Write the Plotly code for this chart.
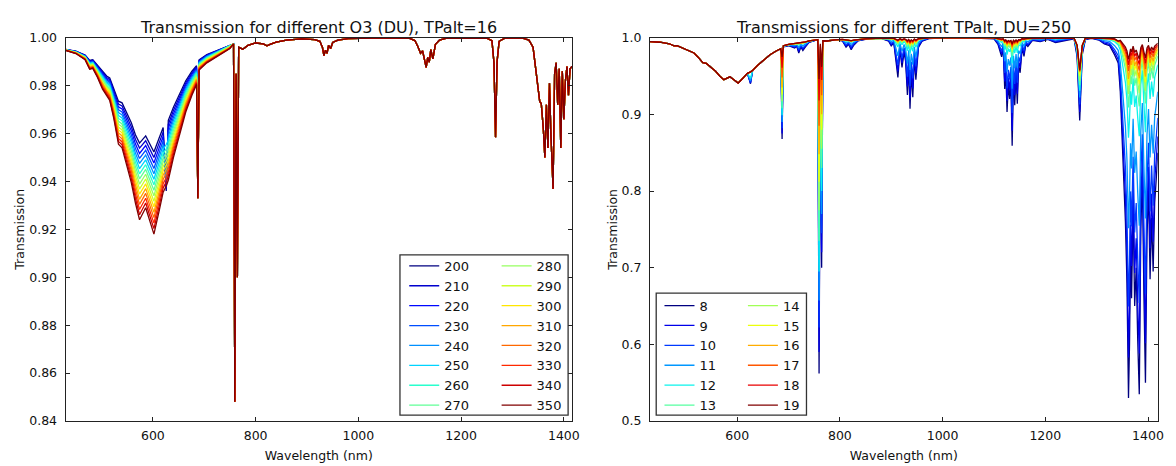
import plotly.graph_objects as go

# ======================= LEFT PANEL DATA =======================
du_levels = [200, 210, 220, 230, 240, 250, 260, 270, 280, 290, 300, 310, 320, 330, 340, 350]

# Chappuis-band region: one column per wavelength, values for DU = 200 ... 350
l_band_wl = [430, 450, 468, 477, 483, 492, 502, 510, 516, 524, 533, 540, 548, 558, 566,
             574, 586, 602, 612, 620, 626, 630, 640, 652, 664, 676, 685, 687.5, 690, 705, 725, 750]
l_band_cols_a = [
    [.9951, .9951, .9950, .9950, .9950, .9950, .9949, .9949, .9949, .9949, .9948, .9948, .9948, .9948, .9947, .9947],
    [.9944, .9943, .9943, .9942, .9941, .9941, .9940, .9939, .9939, .9938, .9937, .9937, .9936, .9935, .9935, .9934],
    [.9928, .9927, .9925, .9924, .9923, .9921, .9920, .9919, .9917, .9916, .9915, .9913, .9912, .9911, .9909, .9908],
    [.9905, .9903, .9900, .9898, .9895, .9893, .9890, .9888, .9885, .9883, .9880, .9878, .9875, .9873, .9870, .9868],
    [.9908, .9906, .9903, .9901, .9898, .9896, .9894, .9891, .9889, .9886, .9884, .9882, .9879, .9877, .9874, .9872],
    [.9885, .9882, .9878, .9875, .9872, .9868, .9865, .9862, .9858, .9855, .9852, .9848, .9845, .9842, .9838, .9835],
    [.9858, .9853, .9848, .9843, .9839, .9834, .9829, .9824, .9819, .9814, .9809, .9804, .9800, .9795, .9790, .9785],
    [.9840, .9834, .9829, .9823, .9817, .9812, .9806, .9800, .9795, .9789, .9783, .9778, .9772, .9766, .9761, .9755],
    [.9832, .9826, .9819, .9813, .9807, .9801, .9794, .9788, .9782, .9776, .9769, .9763, .9757, .9750, .9744, .9738],
    [.9788, .9780, .9771, .9763, .9754, .9746, .9738, .9729, .9721, .9712, .9704, .9696, .9687, .9679, .9670, .9662],
    [.9735, .9723, .9711, .9699, .9687, .9675, .9663, .9651, .9639, .9627, .9615, .9603, .9591, .9579, .9567, .9555],
    [.9728, .9715, .9703, .9690, .9678, .9665, .9653, .9640, .9628, .9615, .9603, .9590, .9578, .9565, .9553, .9540],
    [.9690, .9676, .9661, .9647, .9633, .9618, .9604, .9590, .9575, .9561, .9547, .9532, .9518, .9504, .9489, .9475],
    [.9645, .9628, .9612, .9595, .9578, .9562, .9545, .9528, .9512, .9495, .9478, .9462, .9445, .9428, .9412, .9395],
    [.9595, .9576, .9557, .9538, .9519, .9500, .9481, .9462, .9443, .9424, .9405, .9386, .9367, .9348, .9329, .9310],
]
l_band_cols_b = [
    [.9560, .9539, .9517, .9496, .9475, .9453, .9432, .9411, .9389, .9368, .9347, .9325, .9304, .9283, .9261, .9240],
    [.9590, .9570, .9550, .9530, .9510, .9490, .9470, .9450, .9430, .9410, .9390, .9370, .9350, .9330, .9310, .9290],
    [.9523, .9500, .9477, .9454, .9432, .9409, .9386, .9363, .9340, .9317, .9294, .9271, .9249, .9226, .9203, .9180],
    [.9580, .9560, .9539, .9519, .9499, .9478, .9458, .9438, .9417, .9397, .9377, .9356, .9336, .9316, .9295, .9275],
    [.9625, .9607, .9589, .9571, .9553, .9535, .9517, .9499, .9481, .9463, .9445, .9427, .9409, .9391, .9373, .9355],
    [.9360, .9370, .9380, .9390, .9400, .9554, .9536, .9519, .9502, .9484, .9467, .9450, .9432, .9415, .9398, .9381],
    [.9655, .9638, .9622, .9605, .9588, .9572, .9555, .9538, .9522, .9505, .9488, .9472, .9455, .9438, .9422, .9405],
    [.9710, .9696, .9682, .9668, .9654, .9640, .9626, .9612, .9598, .9584, .9570, .9556, .9542, .9528, .9514, .9500],
    [.9765, .9754, .9743, .9732, .9721, .9710, .9699, .9688, .9677, .9666, .9655, .9644, .9633, .9622, .9611, .9600],
    [.9820, .9811, .9803, .9794, .9785, .9777, .9768, .9759, .9751, .9742, .9733, .9725, .9716, .9707, .9699, .9690],
    [.9860, .9853, .9847, .9840, .9833, .9827, .9820, .9813, .9807, .9800, .9793, .9787, .9780, .9773, .9767, .9760],
    [.9883, .9878, .9873, .9867, .9862, .9857, .9852, .9847, .9841, .9836, .9831, .9826, .9821, .9815, .9810, .9805],
    0.9330,
    [.9908, .9905, .9902, .9899, .9897, .9894, .9891, .9888, .9885, .9882, .9879, .9876, .9874, .9871, .9868, .9865],
    [.9930, .9928, .9925, .9923, .9921, .9918, .9916, .9914, .9911, .9909, .9907, .9904, .9902, .9900, .9897, .9895],
    [.9948, .9946, .9945, .9943, .9941, .9939, .9938, .9936, .9934, .9932, .9931, .9929, .9927, .9925, .9924, .9922],
    [.9970, .9969, .9968, .9967, .9966, .9965, .9964, .9963, .9962, .9961, .9960, .9959, .9958, .9957, .9956, .9955],
]
# beyond 755 nm all DU curves coincide
l_tail_wl = [757, 759.5, 762, 764.5, 767, 775, 785, 800, 815, 822, 828, 840, 860, 890, 915, 925, 930,
             933, 936, 939, 942, 946, 950, 960, 980, 1050, 1100, 1110, 1116, 1121, 1125, 1128, 1132,
             1135, 1138, 1141, 1145, 1150, 1158, 1170, 1250, 1260, 1264, 1267, 1270, 1274, 1285,
             1320, 1332, 1340, 1346, 1350, 1353, 1356, 1360, 1363, 1366, 1369, 1372, 1375, 1379,
             1382, 1385, 1388, 1391, 1394, 1397, 1400, 1403, 1406, 1409, 1412, 1416]
l_tail_T = [0.9974, 0.848, 0.985, 0.900, 0.9960, 0.9952, 0.9968, 0.9978, 0.9974, 0.9966, 0.9972,
            0.9982, 0.9990, 0.9995, 0.9992, 0.9985, 0.9960, 0.9925, 0.9948, 0.9935, 0.9968, 0.9955,
            0.9980, 0.9990, 0.9996, 0.9999, 0.9997, 0.9988, 0.9962, 0.9935, 0.9945, 0.9910, 0.9876,
            0.9918, 0.9898, 0.9950, 0.9912, 0.9972, 0.9990, 0.9997, 0.9998, 0.9988, 0.9895, 0.9585,
            0.9900, 0.9985, 0.9998, 0.9998, 0.9990, 0.9960, 0.9855, 0.9790, 0.9734, 0.9725, 0.9620,
            0.9500, 0.9720, 0.9540, 0.9810, 0.9585, 0.9369, 0.9850, 0.9895, 0.9720, 0.9870, 0.9540,
            0.9860, 0.9660, 0.9820, 0.9880, 0.9760, 0.9870, 0.9880]

# ======================= RIGHT PANEL DATA =======================
tp_levels = [8, 9, 10, 11, 12, 13, 14, 15, 16, 17, 18, 19]

# ozone band (DU=250), common to every TPalt
r_o3a_wl = [430, 450, 468, 477, 483, 492, 502, 510, 516, 524, 533, 540, 548, 558, 566, 574, 586, 602, 612, 620]
r_o3a_T = [.9950, .9941, .9921, .9893, .9896, .9868, .9834, .9812, .9801, .9746, .9675, .9665, .9618,
           .9562, .9500, .9453, .9490, .9409, .9478, .9535]
r_spike_wl = [626]
r_spike_cols = [[0.940, 0.941, 0.942, 0.944, 0.947, 0.9554, 0.9554, 0.9554, 0.9554, 0.9554, 0.9554, 0.9554]]
r_o3b_wl = [630, 640, 652, 664, 676, 685]
r_o3b_T = [.9572, .9640, .9710, .9777, .9827, .9857]

# per-wavelength columns, values for TPalt = 8 ... 19
r_b700_wl = [687.5, 690, 700, 712, 716, 720, 724, 728, 733, 740, 752]
r_b700_cols = [
    [0.868, 0.875, 0.882, 0.890, 0.899, 0.908, 0.917, 0.926, 0.935, 0.948, 0.961, 0.975],
    [0.9880, 0.9884, 0.9886, 0.9888, 0.9890, 0.9891, 0.9892, 0.9893, 0.9894, 0.9895, 0.9895, 0.9896],
    [0.9895, 0.9900, 0.9903, 0.9906, 0.9908, 0.9909, 0.9910, 0.9911, 0.9912, 0.9912, 0.9913, 0.9913],
    [0.9865, 0.9874, 0.9884, 0.9898, 0.9912, 0.9916, 0.9918, 0.9919, 0.9920, 0.9921, 0.9922, 0.9922],
    [0.9890, 0.9896, 0.9903, 0.9912, 0.9921, 0.9924, 0.9925, 0.9926, 0.9927, 0.9927, 0.9928, 0.9928],
    [0.9800, 0.9820, 0.9843, 0.9874, 0.9905, 0.9915, 0.9919, 0.9922, 0.9923, 0.9926, 0.9927, 0.9929],
    [0.9880, 0.9889, 0.9899, 0.9913, 0.9927, 0.9931, 0.9933, 0.9934, 0.9935, 0.9936, 0.9937, 0.9937],
    [0.9833, 0.9850, 0.9868, 0.9894, 0.9919, 0.9927, 0.9930, 0.9932, 0.9933, 0.9935, 0.9937, 0.9938],
    [0.9880, 0.9891, 0.9902, 0.9919, 0.9935, 0.9940, 0.9942, 0.9943, 0.9944, 0.9945, 0.9946, 0.9947],
    [0.9940, 0.9943, 0.9946, 0.9951, 0.9956, 0.9957, 0.9958, 0.9958, 0.9958, 0.9959, 0.9959, 0.9959],
    [0.9965, 0.9966, 0.9967, 0.9968, 0.9968, 0.9969, 0.9969, 0.9969, 0.9970, 0.9970, 0.9970, 0.9970],
]
r_o2a_wl = [757, 759.5, 762, 764.5, 767, 775, 790]
r_o2a_cols = [
    0.9974,
    [0.562, 0.590, 0.622, 0.657, 0.695, 0.735, 0.775, 0.812, 0.848, 0.885, 0.918, 0.946],
    [0.950, 0.955, 0.960, 0.965, 0.970, 0.975, 0.978, 0.982, 0.985, 0.988, 0.990, 0.992],
    [0.700, 0.720, 0.745, 0.770, 0.800, 0.830, 0.855, 0.880, 0.900, 0.925, 0.945, 0.962],
    0.9960, 0.9957, 0.9972,
]
r_b820_wl = [805, 812, 817, 822, 827, 835, 850, 880]
r_b820_cols = [
    [0.9958, 0.9961, 0.9964, 0.9969, 0.9974, 0.9975, 0.9976, 0.9976, 0.9976, 0.9977, 0.9977, 0.9977],
    [0.9876, 0.9891, 0.9908, 0.9931, 0.9954, 0.9961, 0.9964, 0.9966, 0.9967, 0.9969, 0.9970, 0.9971],
    [0.9915, 0.9924, 0.9934, 0.9948, 0.9962, 0.9966, 0.9968, 0.9969, 0.9970, 0.9971, 0.9972, 0.9972],
    [0.9843, 0.9862, 0.9883, 0.9912, 0.9941, 0.9949, 0.9953, 0.9956, 0.9957, 0.9959, 0.9961, 0.9962],
    [0.9902, 0.9913, 0.9924, 0.9941, 0.9957, 0.9962, 0.9964, 0.9965, 0.9966, 0.9967, 0.9968, 0.9969],
    [0.9958, 0.9961, 0.9964, 0.9969, 0.9974, 0.9975, 0.9976, 0.9976, 0.9976, 0.9977, 0.9977, 0.9977],
    [0.9980, 0.9982, 0.9986, 0.9986, 0.9986, 0.9986, 0.9986, 0.9986, 0.9986, 0.9986, 0.9986, 0.9986],
    [0.9990, 0.9994, 0.9994, 0.9994, 0.9994, 0.9994, 0.9994, 0.9994, 0.9994, 0.9994, 0.9994, 0.9994],
]
r_b940_wl = [895, 900, 905, 913, 917, 921, 925, 928, 931.5, 934, 936.6, 939, 942, 945, 948, 953, 960,
             975, 1000, 1050]
r_b940_cols = [
    [0.9956, 0.9962, 0.9969, 0.9978, 0.9987, 0.9990, 0.9991, 0.9992, 0.9993, 0.9993, 0.9994, 0.9994],
    [0.9895, 0.9910, 0.9927, 0.9950, 0.9973, 0.9980, 0.9983, 0.9985, 0.9986, 0.9988, 0.9989, 0.9991],
    [0.9934, 0.9943, 0.9953, 0.9967, 0.9981, 0.9985, 0.9987, 0.9988, 0.9989, 0.9990, 0.9991, 0.9991],
    [0.9483, 0.9560, 0.9646, 0.9764, 0.9881, 0.9917, 0.9932, 0.9942, 0.9949, 0.9957, 0.9964, 0.9970],
    [0.9843, 0.9866, 0.9891, 0.9926, 0.9960, 0.9971, 0.9975, 0.9978, 0.9980, 0.9982, 0.9984, 0.9986],
    [0.9613, 0.9670, 0.9735, 0.9822, 0.9909, 0.9936, 0.9947, 0.9955, 0.9960, 0.9966, 0.9971, 0.9976],
    [0.9813, 0.9840, 0.9871, 0.9912, 0.9953, 0.9966, 0.9971, 0.9975, 0.9977, 0.9980, 0.9983, 0.9985],
    [0.9693, 0.9738, 0.9789, 0.9858, 0.9927, 0.9948, 0.9957, 0.9963, 0.9967, 0.9972, 0.9976, 0.9980],
    [0.9253, 0.9364, 0.9490, 0.9660, 0.9830, 0.9882, 0.9904, 0.9919, 0.9929, 0.9941, 0.9951, 0.9960],
    [0.9643, 0.9696, 0.9755, 0.9836, 0.9916, 0.9941, 0.9951, 0.9958, 0.9963, 0.9969, 0.9973, 0.9977],
    [0.9073, 0.9211, 0.9367, 0.9579, 0.9791, 0.9855, 0.9883, 0.9901, 0.9913, 0.9929, 0.9941, 0.9952],
    [0.9543, 0.9611, 0.9687, 0.9791, 0.9894, 0.9926, 0.9939, 0.9948, 0.9954, 0.9961, 0.9967, 0.9973],
    [0.9223, 0.9339, 0.9469, 0.9647, 0.9824, 0.9878, 0.9901, 0.9916, 0.9926, 0.9939, 0.9949, 0.9958],
    [0.9743, 0.9781, 0.9823, 0.9881, 0.9938, 0.9956, 0.9963, 0.9968, 0.9971, 0.9976, 0.9979, 0.9982],
    [0.9453, 0.9534, 0.9626, 0.9750, 0.9874, 0.9912, 0.9928, 0.9939, 0.9946, 0.9955, 0.9962, 0.9969],
    [0.9873, 0.9891, 0.9911, 0.9939, 0.9967, 0.9975, 0.9979, 0.9981, 0.9983, 0.9985, 0.9986, 0.9988],
    [0.9954, 0.9960, 0.9967, 0.9976, 0.9985, 0.9988, 0.9989, 0.9990, 0.9991, 0.9991, 0.9992, 0.9992],
    [0.9990, 0.9997, 0.9997, 0.9997, 0.9997, 0.9997, 0.9997, 0.9997, 0.9997, 0.9997, 0.9997, 0.9997],
    0.9999, 0.9999,
]
r_b1130_wl = [1100, 1108, 1115, 1118, 1121, 1123, 1125.5, 1128, 1130.5, 1133, 1135.5, 1138, 1140.5,
              1143, 1145.5, 1148, 1151, 1155, 1158.5, 1162, 1166, 1175, 1190, 1205, 1220, 1240]
r_b1130_cols = [
    [0.9985, 0.9997, 0.9997, 0.9997, 0.9997, 0.9997, 0.9997, 0.9997, 0.9997, 0.9997, 0.9997, 0.9997],
    [0.9912, 0.9924, 0.9938, 0.9956, 0.9974, 0.9980, 0.9982, 0.9984, 0.9985, 0.9986, 0.9987, 0.9988],
    [0.9750, 0.9786, 0.9827, 0.9882, 0.9937, 0.9954, 0.9961, 0.9966, 0.9969, 0.9973, 0.9976, 0.9979],
    [0.9870, 0.9888, 0.9908, 0.9936, 0.9964, 0.9972, 0.9976, 0.9978, 0.9980, 0.9982, 0.9983, 0.9985],
    [0.9330, 0.9429, 0.9541, 0.9693, 0.9845, 0.9891, 0.9911, 0.9924, 0.9933, 0.9944, 0.9952, 0.9960],
    [0.9590, 0.9650, 0.9718, 0.9810, 0.9902, 0.9930, 0.9942, 0.9950, 0.9955, 0.9962, 0.9967, 0.9972],
    [0.9030, 0.9174, 0.9337, 0.9558, 0.9779, 0.9846, 0.9875, 0.9894, 0.9906, 0.9923, 0.9935, 0.9947],
    [0.9390, 0.9480, 0.9582, 0.9720, 0.9858, 0.9900, 0.9918, 0.9930, 0.9938, 0.9948, 0.9956, 0.9963],
    [0.9200, 0.9319, 0.9453, 0.9635, 0.9816, 0.9872, 0.9895, 0.9911, 0.9921, 0.9935, 0.9945, 0.9954],
    [0.9440, 0.9523, 0.9616, 0.9743, 0.9869, 0.9908, 0.9924, 0.9935, 0.9942, 0.9952, 0.9959, 0.9965],
    [0.8591, 0.8788, 0.9017, 0.9335, 0.9663, 0.9766, 0.9811, 0.9840, 0.9860, 0.9885, 0.9904, 0.9922],
    [0.9490, 0.9565, 0.9650, 0.9765, 0.9880, 0.9915, 0.9930, 0.9940, 0.9947, 0.9955, 0.9962, 0.9968],
    [0.9120, 0.9250, 0.9398, 0.9598, 0.9799, 0.9860, 0.9886, 0.9903, 0.9914, 0.9929, 0.9940, 0.9951],
    [0.9540, 0.9608, 0.9684, 0.9788, 0.9891, 0.9923, 0.9936, 0.9945, 0.9951, 0.9958, 0.9964, 0.9970],
    [0.9140, 0.9268, 0.9412, 0.9608, 0.9803, 0.9863, 0.9888, 0.9905, 0.9916, 0.9930, 0.9942, 0.9952],
    [0.9640, 0.9693, 0.9752, 0.9833, 0.9913, 0.9938, 0.9948, 0.9955, 0.9960, 0.9966, 0.9970, 0.9974],
    [0.9542, 0.9610, 0.9686, 0.9790, 0.9893, 0.9925, 0.9938, 0.9947, 0.9953, 0.9960, 0.9966, 0.9972],
    [0.9872, 0.9890, 0.9910, 0.9938, 0.9966, 0.9974, 0.9978, 0.9980, 0.9982, 0.9984, 0.9985, 0.9987],
    [0.9755, 0.9791, 0.9832, 0.9887, 0.9942, 0.9959, 0.9966, 0.9971, 0.9974, 0.9978, 0.9981, 0.9984],
    [0.9915, 0.9927, 0.9941, 0.9959, 0.9977, 0.9983, 0.9985, 0.9987, 0.9988, 0.9989, 0.9990, 0.9991],
    [0.9886, 0.9903, 0.9921, 0.9947, 0.9972, 0.9980, 0.9983, 0.9985, 0.9986, 0.9988, 0.9990, 0.9991],
    [0.9967, 0.9972, 0.9977, 0.9984, 0.9990, 0.9993, 0.9993, 0.9994, 0.9994, 0.9995, 0.9995, 0.9996],
    [0.9948, 0.9956, 0.9964, 0.9976, 0.9987, 0.9991, 0.9992, 0.9993, 0.9994, 0.9995, 0.9995, 0.9996],
    [0.9978, 0.9981, 0.9984, 0.9989, 0.9994, 0.9995, 0.9996, 0.9996, 0.9996, 0.9997, 0.9997, 0.9997],
    [0.9938, 0.9947, 0.9957, 0.9971, 0.9985, 0.9989, 0.9991, 0.9992, 0.9993, 0.9994, 0.9995, 0.9995],
    [0.9968, 0.9973, 0.9978, 0.9985, 0.9991, 0.9994, 0.9994, 0.9995, 0.9995, 0.9996, 0.9996, 0.9997],
]
r_b1268_wl = [1256, 1262, 1267, 1272, 1278, 1290]
r_b1268_cols = [
    [0.9985, 0.9995, 0.9995, 0.9995, 0.9995, 0.9995, 0.9995, 0.9995, 0.9995, 0.9995, 0.9995, 0.9995],
    [0.975, 0.978, 0.981, 0.983, 0.985, 0.987, 0.988, 0.989, 0.990, 0.990, 0.990, 0.990],
    [0.892, 0.903, 0.913, 0.922, 0.931, 0.938, 0.944, 0.950, 0.955, 0.956, 0.957, 0.958],
    [0.978, 0.981, 0.983, 0.985, 0.987, 0.988, 0.989, 0.990, 0.990, 0.990, 0.990, 0.990],
    [0.9975, 0.9980, 0.9985, 0.9988, 0.9990, 0.9990, 0.9992, 0.9993, 0.9994, 0.9995, 0.9995, 0.9995],
    [0.9990, 0.9998, 0.9998, 0.9998, 0.9998, 0.9998, 0.9998, 0.9998, 0.9998, 0.9998, 0.9998, 0.9998],
]
r_b1380_wl = [1305, 1315, 1325, 1335, 1342, 1346, 1350, 1353, 1356, 1359, 1362, 1364, 1366, 1368,
              1371, 1374, 1377, 1380, 1383, 1386, 1389, 1392, 1395, 1398, 1401, 1404, 1407, 1410,
              1413, 1416, 1419]
r_b1380_cols = [
    [0.9968, 0.9973, 0.9978, 0.9985, 0.9991, 0.9994, 0.9994, 0.9995, 0.9995, 0.9996, 0.9996, 0.9997],
    [0.9918, 0.9930, 0.9944, 0.9962, 0.9980, 0.9986, 0.9988, 0.9990, 0.9991, 0.9992, 0.9993, 0.9994],
    [0.9898, 0.9913, 0.9930, 0.9953, 0.9976, 0.9983, 0.9986, 0.9988, 0.9989, 0.9991, 0.9992, 0.9994],
    [0.9775, 0.9808, 0.9845, 0.9896, 0.9947, 0.9962, 0.9969, 0.9973, 0.9976, 0.9980, 0.9982, 0.9985],
    [0.9670, 0.9715, 0.9766, 0.9835, 0.9904, 0.9925, 0.9934, 0.9940, 0.9944, 0.9949, 0.9953, 0.9957],
    [0.930, 0.9402, 0.9518, 0.9678, 0.9841, 0.9892, 0.9913, 0.9927, 0.9937, 0.9949, 0.9959, 0.9967],
    [0.860, 0.8795, 0.9024, 0.9343, 0.9673, 0.9776, 0.9821, 0.9850, 0.9870, 0.9895, 0.9914, 0.9932],
    [0.800, 0.8273, 0.8593, 0.9045, 0.9521, 0.9671, 0.9736, 0.9779, 0.9808, 0.9845, 0.9874, 0.9900],
    [0.760, 0.7922, 0.8300, 0.8840, 0.9415, 0.9597, 0.9676, 0.9730, 0.9765, 0.9810, 0.9845, 0.9878],
    [0.680, 0.7203, 0.7691, 0.8406, 0.9186, 0.9437, 0.9548, 0.9621, 0.9670, 0.9734, 0.9782, 0.9828],
    [0.530, 0.5829, 0.6493, 0.7514, 0.8696, 0.9091, 0.9266, 0.9385, 0.9463, 0.9565, 0.9645, 0.9718],
    [0.600, 0.6477, 0.7064, 0.7945, 0.8937, 0.9262, 0.9405, 0.9502, 0.9565, 0.9648, 0.9713, 0.9773],
    [0.720, 0.7560, 0.7995, 0.8624, 0.9302, 0.9518, 0.9613, 0.9676, 0.9718, 0.9773, 0.9814, 0.9853],
    [0.660, 0.7022, 0.7536, 0.8293, 0.9126, 0.9395, 0.9513, 0.9593, 0.9645, 0.9713, 0.9766, 0.9815],
    [0.780, 0.8099, 0.8448, 0.8944, 0.9469, 0.9635, 0.9706, 0.9755, 0.9786, 0.9828, 0.9860, 0.9889],
    [0.650, 0.6932, 0.7459, 0.8237, 0.9096, 0.9374, 0.9496, 0.9578, 0.9632, 0.9703, 0.9757, 0.9808],
    [0.700, 0.7382, 0.7844, 0.8515, 0.9245, 0.9478, 0.9581, 0.9649, 0.9694, 0.9753, 0.9799, 0.9840],
    [0.605, 0.6524, 0.7106, 0.7976, 0.8953, 0.9274, 0.9415, 0.9510, 0.9566, 0.9649, 0.9714, 0.9774],
    [0.535, 0.5879, 0.6538, 0.7548, 0.8715, 0.9105, 0.9277, 0.9394, 0.9471, 0.9572, 0.9650, 0.9723],
    [0.750, 0.7829, 0.8222, 0.8784, 0.9386, 0.9577, 0.9660, 0.9716, 0.9752, 0.9800, 0.9837, 0.9871],
    [0.820, 0.8451, 0.8741, 0.9148, 0.9573, 0.9707, 0.9765, 0.9804, 0.9829, 0.9862, 0.9888, 0.9911],
    [0.665, 0.7070, 0.7578, 0.8323, 0.9141, 0.9406, 0.9522, 0.9600, 0.9646, 0.9714, 0.9767, 0.9816],
    [0.550, 0.6015, 0.6659, 0.7641, 0.8767, 0.9142, 0.9307, 0.9420, 0.9493, 0.9590, 0.9665, 0.9735],
    [0.740, 0.7742, 0.8149, 0.8733, 0.9359, 0.9558, 0.9645, 0.9703, 0.9741, 0.9791, 0.9830, 0.9866],
    [0.805, 0.8315, 0.8628, 0.9069, 0.9534, 0.9679, 0.9743, 0.9785, 0.9810, 0.9846, 0.9875, 0.9901],
    [0.685, 0.7252, 0.7734, 0.8436, 0.9202, 0.9449, 0.9556, 0.9629, 0.9671, 0.9735, 0.9783, 0.9829],
    [0.765, 0.7963, 0.8334, 0.8864, 0.9427, 0.9606, 0.9683, 0.9736, 0.9767, 0.9811, 0.9846, 0.9879],
    [0.695, 0.7339, 0.7808, 0.8489, 0.9230, 0.9469, 0.9572, 0.9643, 0.9693, 0.9752, 0.9798, 0.9839],
    [0.785, 0.8141, 0.8482, 0.8968, 0.9482, 0.9644, 0.9714, 0.9761, 0.9787, 0.9829, 0.9861, 0.9890],
    [0.815, 0.8404, 0.8701, 0.9120, 0.9560, 0.9698, 0.9757, 0.9797, 0.9828, 0.9861, 0.9887, 0.9910],
    [0.850, 0.8710, 0.8954, 0.9295, 0.9649, 0.9759, 0.9807, 0.9838, 0.9859, 0.9887, 0.9907, 0.9927],
]

# ======================= helpers =======================
def jet(t):
    def seg(pts):
        for (x0, y0), (x1, y1) in zip(pts[:-1], pts[1:]):
            if t <= x1:
                return y0 + (y1 - y0) * (t - x0) / (x1 - x0)
        return pts[-1][1]
    r = seg([(0, 0), (0.35, 0), (0.66, 1), (0.89, 1), (1, 0.5)])
    g = seg([(0, 0), (0.125, 0), (0.375, 1), (0.64, 1), (0.91, 0), (1, 0)])
    b = seg([(0, 0.5), (0.11, 1), (0.34, 1), (0.65, 0), (1, 0)])
    return "rgb(%d,%d,%d)" % (round(r * 255), round(g * 255), round(b * 255))


def column_values(cols, k):
    return [c[k] if isinstance(c, list) else c for c in cols]


fig = go.Figure()
LW = 1.3

# left panel traces
l_cols = l_band_cols_a + l_band_cols_b
for k, du in enumerate(du_levels):
    xs = l_band_wl + l_tail_wl
    ys = column_values(l_cols, k) + l_tail_T
    fig.add_trace(go.Scatter(
        x=xs, y=ys, mode="lines", name=str(du),
        line=dict(color=jet(k / (len(du_levels) - 1)), width=LW),
        xaxis="x", yaxis="y", legend="legend" if k < 8 else "legend2",
        hoverinfo="skip"))

# right panel traces
r_groups = [(r_b700_wl, r_b700_cols), (r_o2a_wl, r_o2a_cols), (r_b820_wl, r_b820_cols),
            (r_b940_wl, r_b940_cols), (r_b1130_wl, r_b1130_cols), (r_b1268_wl, r_b1268_cols),
            (r_b1380_wl, r_b1380_cols)]
for k, tp in enumerate(tp_levels):
    xs = r_o3a_wl + r_spike_wl + r_o3b_wl
    ys = r_o3a_T + column_values(r_spike_cols, k) + r_o3b_T
    for gwl, gcols in r_groups:
        xs = xs + gwl
        ys = ys + column_values(gcols, k)
    fig.add_trace(go.Scatter(
        x=xs, y=ys, mode="lines", name=str(tp),
        line=dict(color=jet(k / (len(tp_levels) - 1)), width=LW),
        xaxis="x2", yaxis="y2", legend="legend3" if k < 6 else "legend4",
        hoverinfo="skip"))

W, H = 1176, 466
FONT = "DejaVu Sans"
axis_common = dict(showline=True, linecolor="#222", linewidth=1, mirror="allticks",
                   ticks="inside", ticklen=4, tickcolor="#222", showgrid=False,
                   zeroline=False, tickfont=dict(size=12.5, family=FONT, color="#111"))

ydom = [1 - 426.7 / H, 1 - 30.7 / H]
fig.update_layout(
    width=W, height=H, margin=dict(l=0, r=0, t=0, b=0),
    paper_bgcolor="white", plot_bgcolor="white",
    font=dict(family=FONT, size=12.5, color="#111"),
    xaxis=dict(domain=[66 / W, 576 / W], range=[430, 1416], tickvals=[600, 800, 1000, 1200, 1400],
               anchor="y", ticklabelstandoff=3,
               title=dict(text="Wavelength (nm)", standoff=9, font=dict(size=12.5)), **axis_common),
    yaxis=dict(domain=ydom, range=[0.84, 1.0], tickvals=[0.84, 0.86, 0.88, 0.90, 0.92, 0.94, 0.96, 0.98, 1.00],
               tickformat=".2f", anchor="x", ticklabelstandoff=5,
               title=dict(text="Transmission", standoff=1, font=dict(size=12.5)), **axis_common),
    xaxis2=dict(domain=[654.3 / W, 1165.7 / W], range=[430, 1419], tickvals=[600, 800, 1000, 1200, 1400],
                anchor="y2", ticklabelstandoff=3,
                title=dict(text="Wavelength (nm)", standoff=9, font=dict(size=12.5)), **axis_common),
    yaxis2=dict(domain=ydom, range=[0.5, 1.0], tickvals=[0.5, 0.6, 0.7, 0.8, 0.9, 1.0],
                tickformat=".1f", anchor="x2", ticklabelstandoff=5,
                title=dict(text="Transmission", standoff=1, font=dict(size=12.5)), **axis_common),
    showlegend=True,
)

leg_common = dict(xanchor="left", yanchor="top", bgcolor="rgba(0,0,0,0)", borderwidth=0,
                  font=dict(size=13, family=FONT, color="#111"), tracegroupgap=0,
                  itemclick=False, itemdoubleclick=False)
fig.update_layout(
    legend=dict(x=407 / W, y=1 - 251 / H, **leg_common),
    legend2=dict(x=500 / W, y=1 - 251 / H, **leg_common),
    legend3=dict(x=664 / W, y=1 - 292 / H, **leg_common),
    legend4=dict(x=748 / W, y=1 - 292 / H, **leg_common),
)

# legend frames
fig.add_shape(type="rect", xref="paper", yref="paper", x0=402.7 / W, x1=572 / W,
              y0=1 - 420.7 / H, y1=1 - 255 / H, line=dict(color="#333", width=1.3))
fig.add_shape(type="rect", xref="paper", yref="paper", x0=660.7 / W, x1=812 / W,
              y0=1 - 420.7 / H, y1=1 - 294.7 / H, line=dict(color="#333", width=1.3))

# panel titles
fig.add_annotation(text="Transmission for different O3 (DU), TPalt=16", xref="paper", yref="paper",
                   x=321 / W, y=1 - 20 / H, showarrow=False, xanchor="center", yanchor="middle",
                   font=dict(size=16, family=FONT, color="#111"))
fig.add_annotation(text="Transmissions for different TPalt, DU=250", xref="paper", yref="paper",
                   x=910 / W, y=1 - 20 / H, showarrow=False, xanchor="center", yanchor="middle",
                   font=dict(size=16, family=FONT, color="#111"))

fig.write_html("out.html")
